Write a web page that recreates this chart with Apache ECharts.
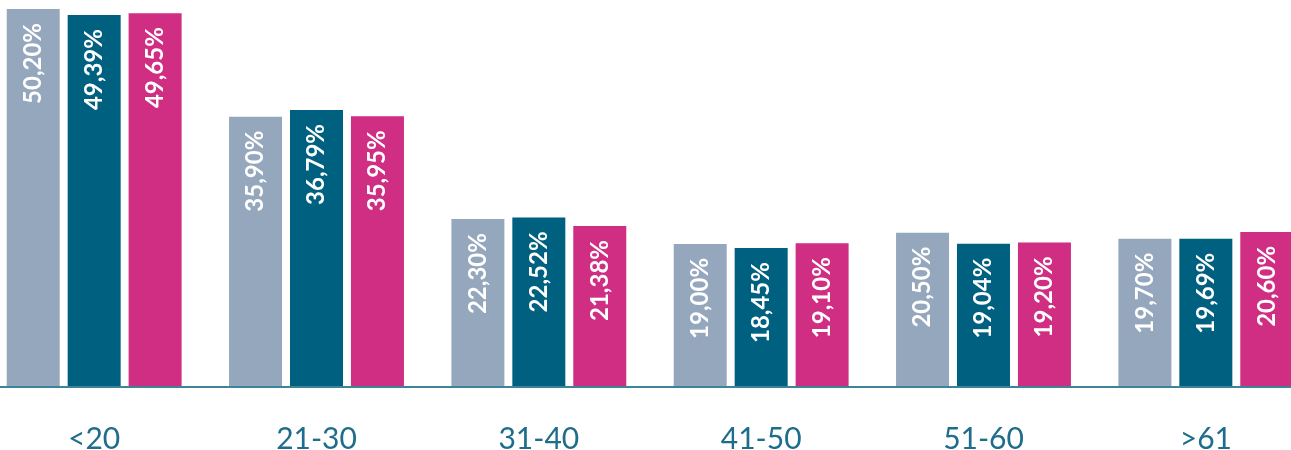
<!DOCTYPE html>
<html>
<head>
<meta charset="utf-8">
<script src="https://cdn.jsdelivr.net/npm/echarts@6/dist/echarts.min.js"></script>
<style>
  html, body { margin: 0; padding: 0; background: #ffffff; }
  #chart { width: 1291px; height: 450px; }
</style>
</head>
<body>
<div id="chart"></div>
<script>
// Age groups along the category axis
const categories = ['<20', '21-30', '31-40', '41-50', '51-60', '>61'];

// Share per age group (percent), three series
const seriesA = [50.20, 35.90, 22.30, 19.00, 20.50, 19.70];
const seriesB = [49.39, 36.79, 22.52, 18.45, 19.04, 19.69];
const seriesC = [49.65, 35.95, 21.38, 19.10, 19.20, 20.60];

const colors = ['#94A7BD', '#006080', '#CF2E83'];

const fmt = v => v.toFixed(2).replace('.', ',') + '%';

const labelStyle = {
  show: true,
  position: 'insideTop',
  rotate: 90,
  align: 'right',
  verticalAlign: 'middle',
  distance: 14,
  color: '#ffffff',
  fontFamily: 'Lato',
  fontWeight: 'bold',
  fontSize: 24,
  formatter: p => fmt(p.value)
};

function makeSeries(name, data, color) {
  return {
    name: name,
    type: 'bar',
    data: data,
    barWidth: 53,
    barGap: '15%',
    itemStyle: { color: color },
    label: labelStyle,
    silent: true
  };
}

const chart = echarts.init(document.getElementById('chart'), null, { renderer: 'canvas' });
chart.setOption({
  animation: false,
  backgroundColor: '#ffffff',
  grid: {
    left: -17, right: -26, top: 9, bottom: 63,
    containLabel: false,
    outerBoundsMode: 'none'
  },
  xAxis: {
    type: 'category',
    data: categories,
    z: 5,
    axisLine: { show: true, lineStyle: { color: '#3E8499', width: 2 } },
    axisTick: { show: false },
    axisLabel: {
      color: '#1E6D8A',
      fontFamily: 'Lato',
      fontSize: 30,
      margin: 37
    }
  },
  yAxis: {
    type: 'value',
    min: 0,
    max: 50.2,
    show: false,
    splitLine: { show: false }
  },
  series: [
    makeSeries('A', seriesA, colors[0]),
    makeSeries('B', seriesB, colors[1]),
    makeSeries('C', seriesC, colors[2])
  ]
});
</script>
</body>
</html>
